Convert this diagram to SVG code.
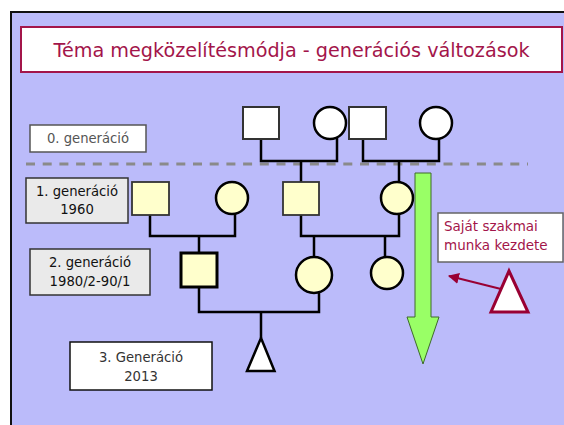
<svg xmlns="http://www.w3.org/2000/svg" width="564" height="425" viewBox="0 0 564 425">
<defs>
<style>
.lbl{font-family:"DejaVu Sans",Verdana,sans-serif;font-size:13.2px;text-anchor:middle}
.ln{fill:none;stroke:#000;stroke-width:2.5}
.c{stroke:#000;stroke-width:2.5}
.sqw{fill:#fff;stroke:#333;stroke-width:2}
.sqy{fill:#FFFFCC;stroke:#333;stroke-width:1.8}
</style>
<marker id="ah" viewBox="0 0 10 10" refX="9" refY="5" markerWidth="5" markerHeight="5" orient="auto">
<path d="M0,0 L10,5 L0,10 z" fill="#990033"/>
</marker>
</defs>
<rect x="0" y="0" width="564" height="425" fill="#fff"/>
<rect x="11" y="12" width="553" height="413" fill="#BBBBFA"/>
<path d="M11,425 V12 H564" fill="none" stroke="#111" stroke-width="2"/>
<g id="title">
<rect x="21" y="27" width="541" height="45" fill="#fff" stroke="#A3154A" stroke-width="2"/>
<text x="291.5" y="57" font-family="DejaVu Sans,Verdana,sans-serif" font-size="19.2" fill="#A3154A" text-anchor="middle">Téma megközelítésmódja - generációs változások</text>
</g>
<line x1="26" y1="164" x2="528" y2="164" stroke="#8A8A8A" stroke-width="3" stroke-dasharray="9 7.7"/>
<g id="connectors">
<path class="ln" d="M261,139 V161 H337 V138 M301,161 V183"/>
<path class="ln" d="M363,139 V161 H439 V139 M399,161 V182"/>
<path class="ln" d="M150,215 V236 H235 V214 M199,236 V253"/>
<path class="ln" d="M301,215 V236 H399 V213 M314,236 V257 M385,236 V258"/>
<path class="ln" d="M199,287 V312 H319 V291 M261,312 V338"/>
<line x1="501" y1="289" x2="449" y2="276" stroke="#990033" stroke-width="2.2" marker-end="url(#ah)"/>
</g>
<g id="g0-m1"><rect class="sqw" x="243" y="107" width="36" height="32"/></g>
<g id="g0-f1"><circle class="c" cx="330" cy="123" r="16" fill="#fff"/></g>
<g id="g0-m2"><rect class="sqw" x="349" y="107" width="37" height="32"/></g>
<g id="g0-f2"><circle class="c" cx="436" cy="123" r="16" fill="#fff"/></g>
<g id="g1-m1"><rect class="sqy" x="132" y="182" width="37" height="33"/></g>
<g id="g1-f1"><circle class="c" cx="232" cy="198" r="16" fill="#FFFFCC"/></g>
<g id="g1-m2"><rect class="sqy" x="283" y="182" width="36" height="33"/></g>
<g id="g1-f2"><circle class="c" cx="397" cy="198" r="16" fill="#FFFFCC"/></g>
<g id="g2-m"><rect x="181" y="253" width="36" height="34" fill="#FFFFCC" stroke="#000" stroke-width="3"/></g>
<g id="g2-f1"><circle class="c" cx="314" cy="275" r="18" fill="#FFFFCC"/></g>
<g id="g2-f2"><circle class="c" cx="387" cy="273" r="16" fill="#FFFFCC"/></g>
<g id="g3"><polygon points="261,338 274.5,371 247,371" fill="#fff" stroke="#000" stroke-width="2.5" stroke-linejoin="miter"/></g>
<g id="green-arrow"><polygon points="415,173 431,173 431,317 439,317 423,364 407,317 415,317" fill="#99FF66" stroke="#3E6B2A" stroke-width="1"/></g>
<g id="red-triangle"><polygon points="509,271 528,312 491,312" fill="#fff" stroke="#990033" stroke-width="3"/></g>
<g id="label-g0">
<rect x="30" y="125" width="116" height="27" fill="#fff" stroke="#555" stroke-width="1.5"/>
<text class="lbl" x="88" y="143" fill="#555">0. generáció</text>
</g>
<g id="label-g1">
<rect x="26" y="178" width="102" height="45" fill="#EAEAEA" stroke="#333" stroke-width="1.5"/>
<text class="lbl" x="77" y="196" fill="#111">1. generáció</text>
<text class="lbl" x="77" y="214" fill="#111">1960</text>
</g>
<g id="label-g2">
<rect x="30" y="249" width="120" height="46" fill="#EAEAEA" stroke="#333" stroke-width="1.5"/>
<text class="lbl" x="90" y="267" fill="#111">2. generáció</text>
<text class="lbl" x="90" y="286" fill="#111">1980/2-90/1</text>
</g>
<g id="label-g3">
<rect x="70" y="342" width="142" height="48" fill="#fff" stroke="#111" stroke-width="1.5"/>
<text class="lbl" x="141" y="362" fill="#333">3. Generáció</text>
<text class="lbl" x="141" y="381" fill="#333">2013</text>
</g>
<g id="label-work">
<rect x="438" y="213" width="125" height="49" fill="#fff" stroke="#666" stroke-width="1.5"/>
<text x="444" y="231" font-family="DejaVu Sans,Verdana,sans-serif" font-size="13.5" fill="#A3154A">Saját szakmai</text>
<text x="444" y="250" font-family="DejaVu Sans,Verdana,sans-serif" font-size="13.5" fill="#A3154A">munka kezdete</text>
</g>
</svg>
